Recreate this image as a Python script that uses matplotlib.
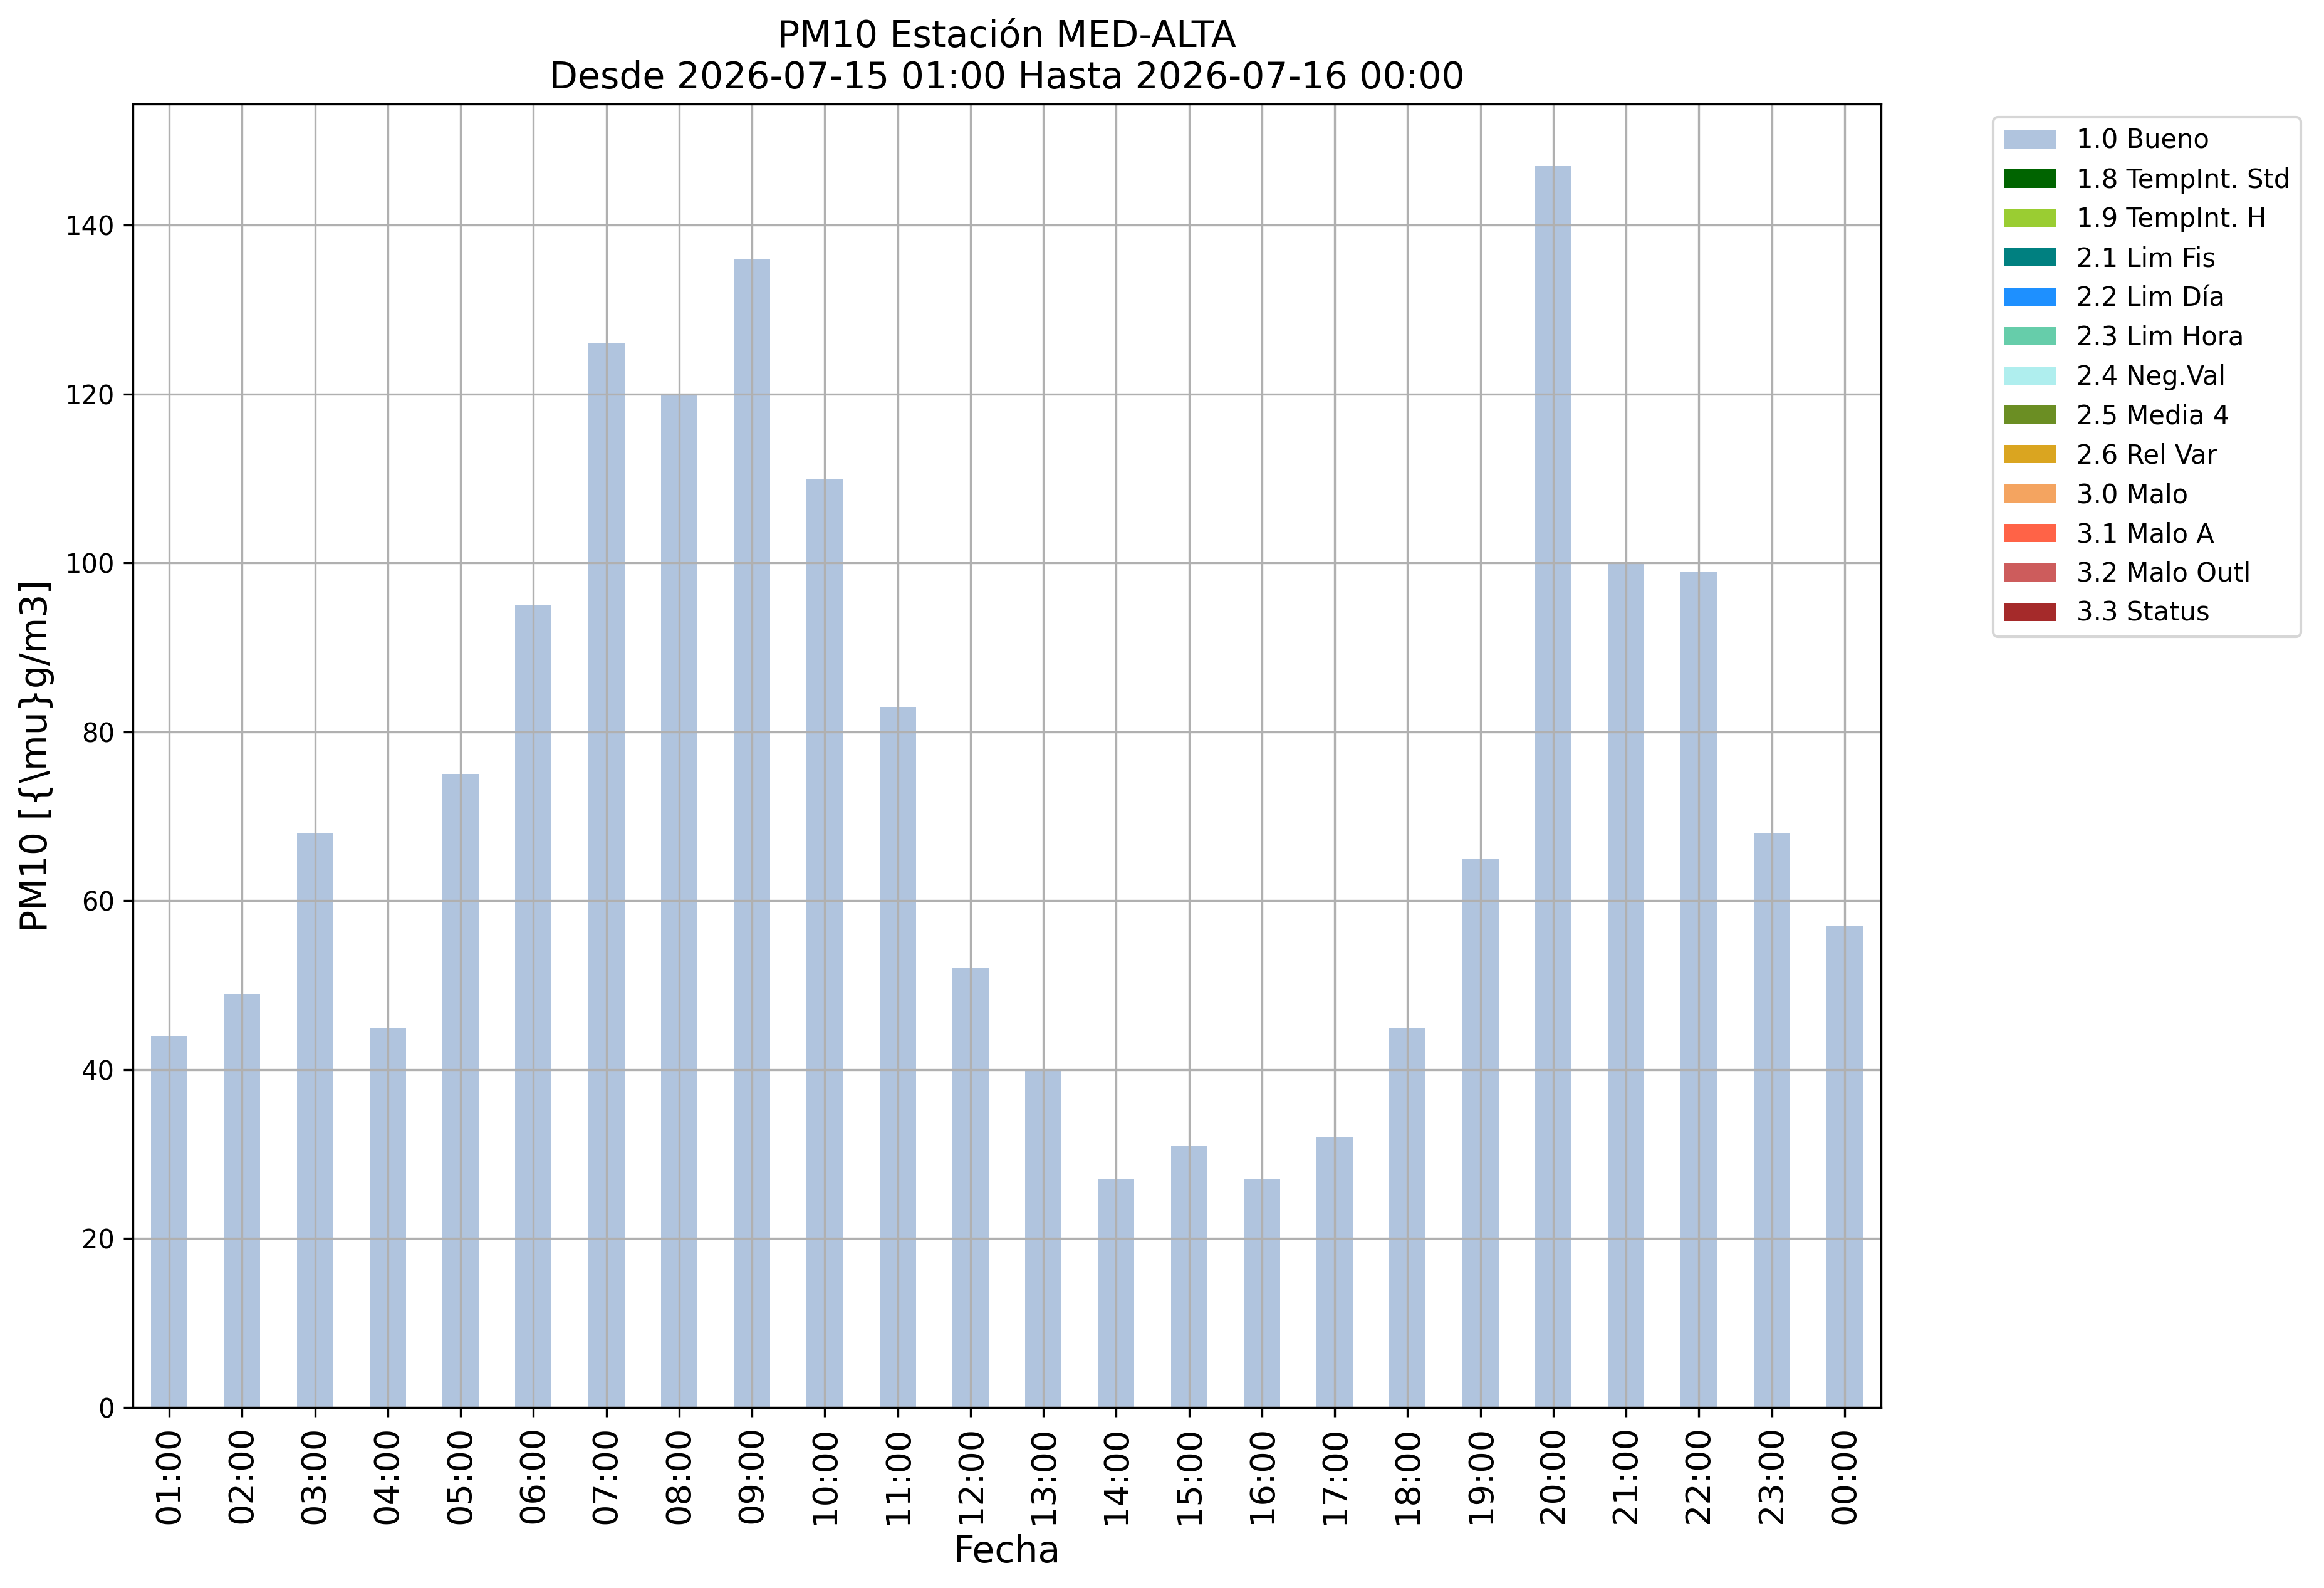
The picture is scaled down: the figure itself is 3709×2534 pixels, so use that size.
import matplotlib
matplotlib.use("Agg")
import matplotlib.pyplot as plt
import numpy as np

hours = ["01:00", "02:00", "03:00", "04:00", "05:00", "06:00", "07:00", "08:00",
         "09:00", "10:00", "11:00", "12:00", "13:00", "14:00", "15:00", "16:00",
         "17:00", "18:00", "19:00", "20:00", "21:00", "22:00", "23:00", "00:00"]

bueno = [44, 49, 68, 45, 75, 95, 126, 120, 136, 110, 83, 52,
         40, 27, 31, 27, 32, 45, 65, 147, 100, 99, 68, 57]

categories = ["1.0 Bueno", "1.8 TempInt. Std", "1.9 TempInt. H", "2.1 Lim Fis",
              "2.2 Lim Día", "2.3 Lim Hora", "2.4 Neg.Val", "2.5 Media 4",
              "2.6 Rel Var", "3.0 Malo", "3.1 Malo A", "3.2 Malo Outl", "3.3 Status"]

colors = ["lightsteelblue", "darkgreen", "yellowgreen", "teal", "dodgerblue",
          "mediumaquamarine", "paleturquoise", "olivedrab", "goldenrod",
          "sandybrown", "tomato", "indianred", "brown"]

# only "Bueno" has data; other categories are empty
series = {c: ([float(v) for v in bueno] if i == 0 else [0.0] * len(hours))
          for i, c in enumerate(categories)}

W, H = 3709, 2534
fig = plt.figure(figsize=(W / 300, H / 300), dpi=300)
ax = fig.add_axes([212 / W, (H - 2246) / H, 2790 / W, 2080 / H])

x = np.arange(len(hours))
bottom = np.zeros(len(hours))
for c, col in zip(categories, colors):
    vals = np.array(series[c])
    ax.bar(x, vals, width=0.5, bottom=bottom, color=col, label=c)
    bottom += vals

ax.set_xlim(-0.5, len(hours) - 0.5)
ax.set_ylim(0, max(bueno) * 1.05)
ax.set_xticks(x)
ax.set_xticklabels(hours, rotation=90, fontsize=13)
ax.tick_params(axis="y", labelsize=10)
ax.grid(True)

ax.set_title("PM10 Estación MED-ALTA\nDesde 2026-07-15 01:00 Hasta 2026-07-16 00:00", fontsize=14)
ax.set_ylabel("PM10 [{\\mu}g/m3]", fontsize=14)
ax.set_xlabel("Fecha", fontsize=14)

ax.legend(loc="upper left", bbox_to_anchor=(3181 / W, 1 - 187 / H),
          bbox_transform=fig.transFigure, borderaxespad=0, fontsize=10)

fig.savefig("out.png", dpi=300)
